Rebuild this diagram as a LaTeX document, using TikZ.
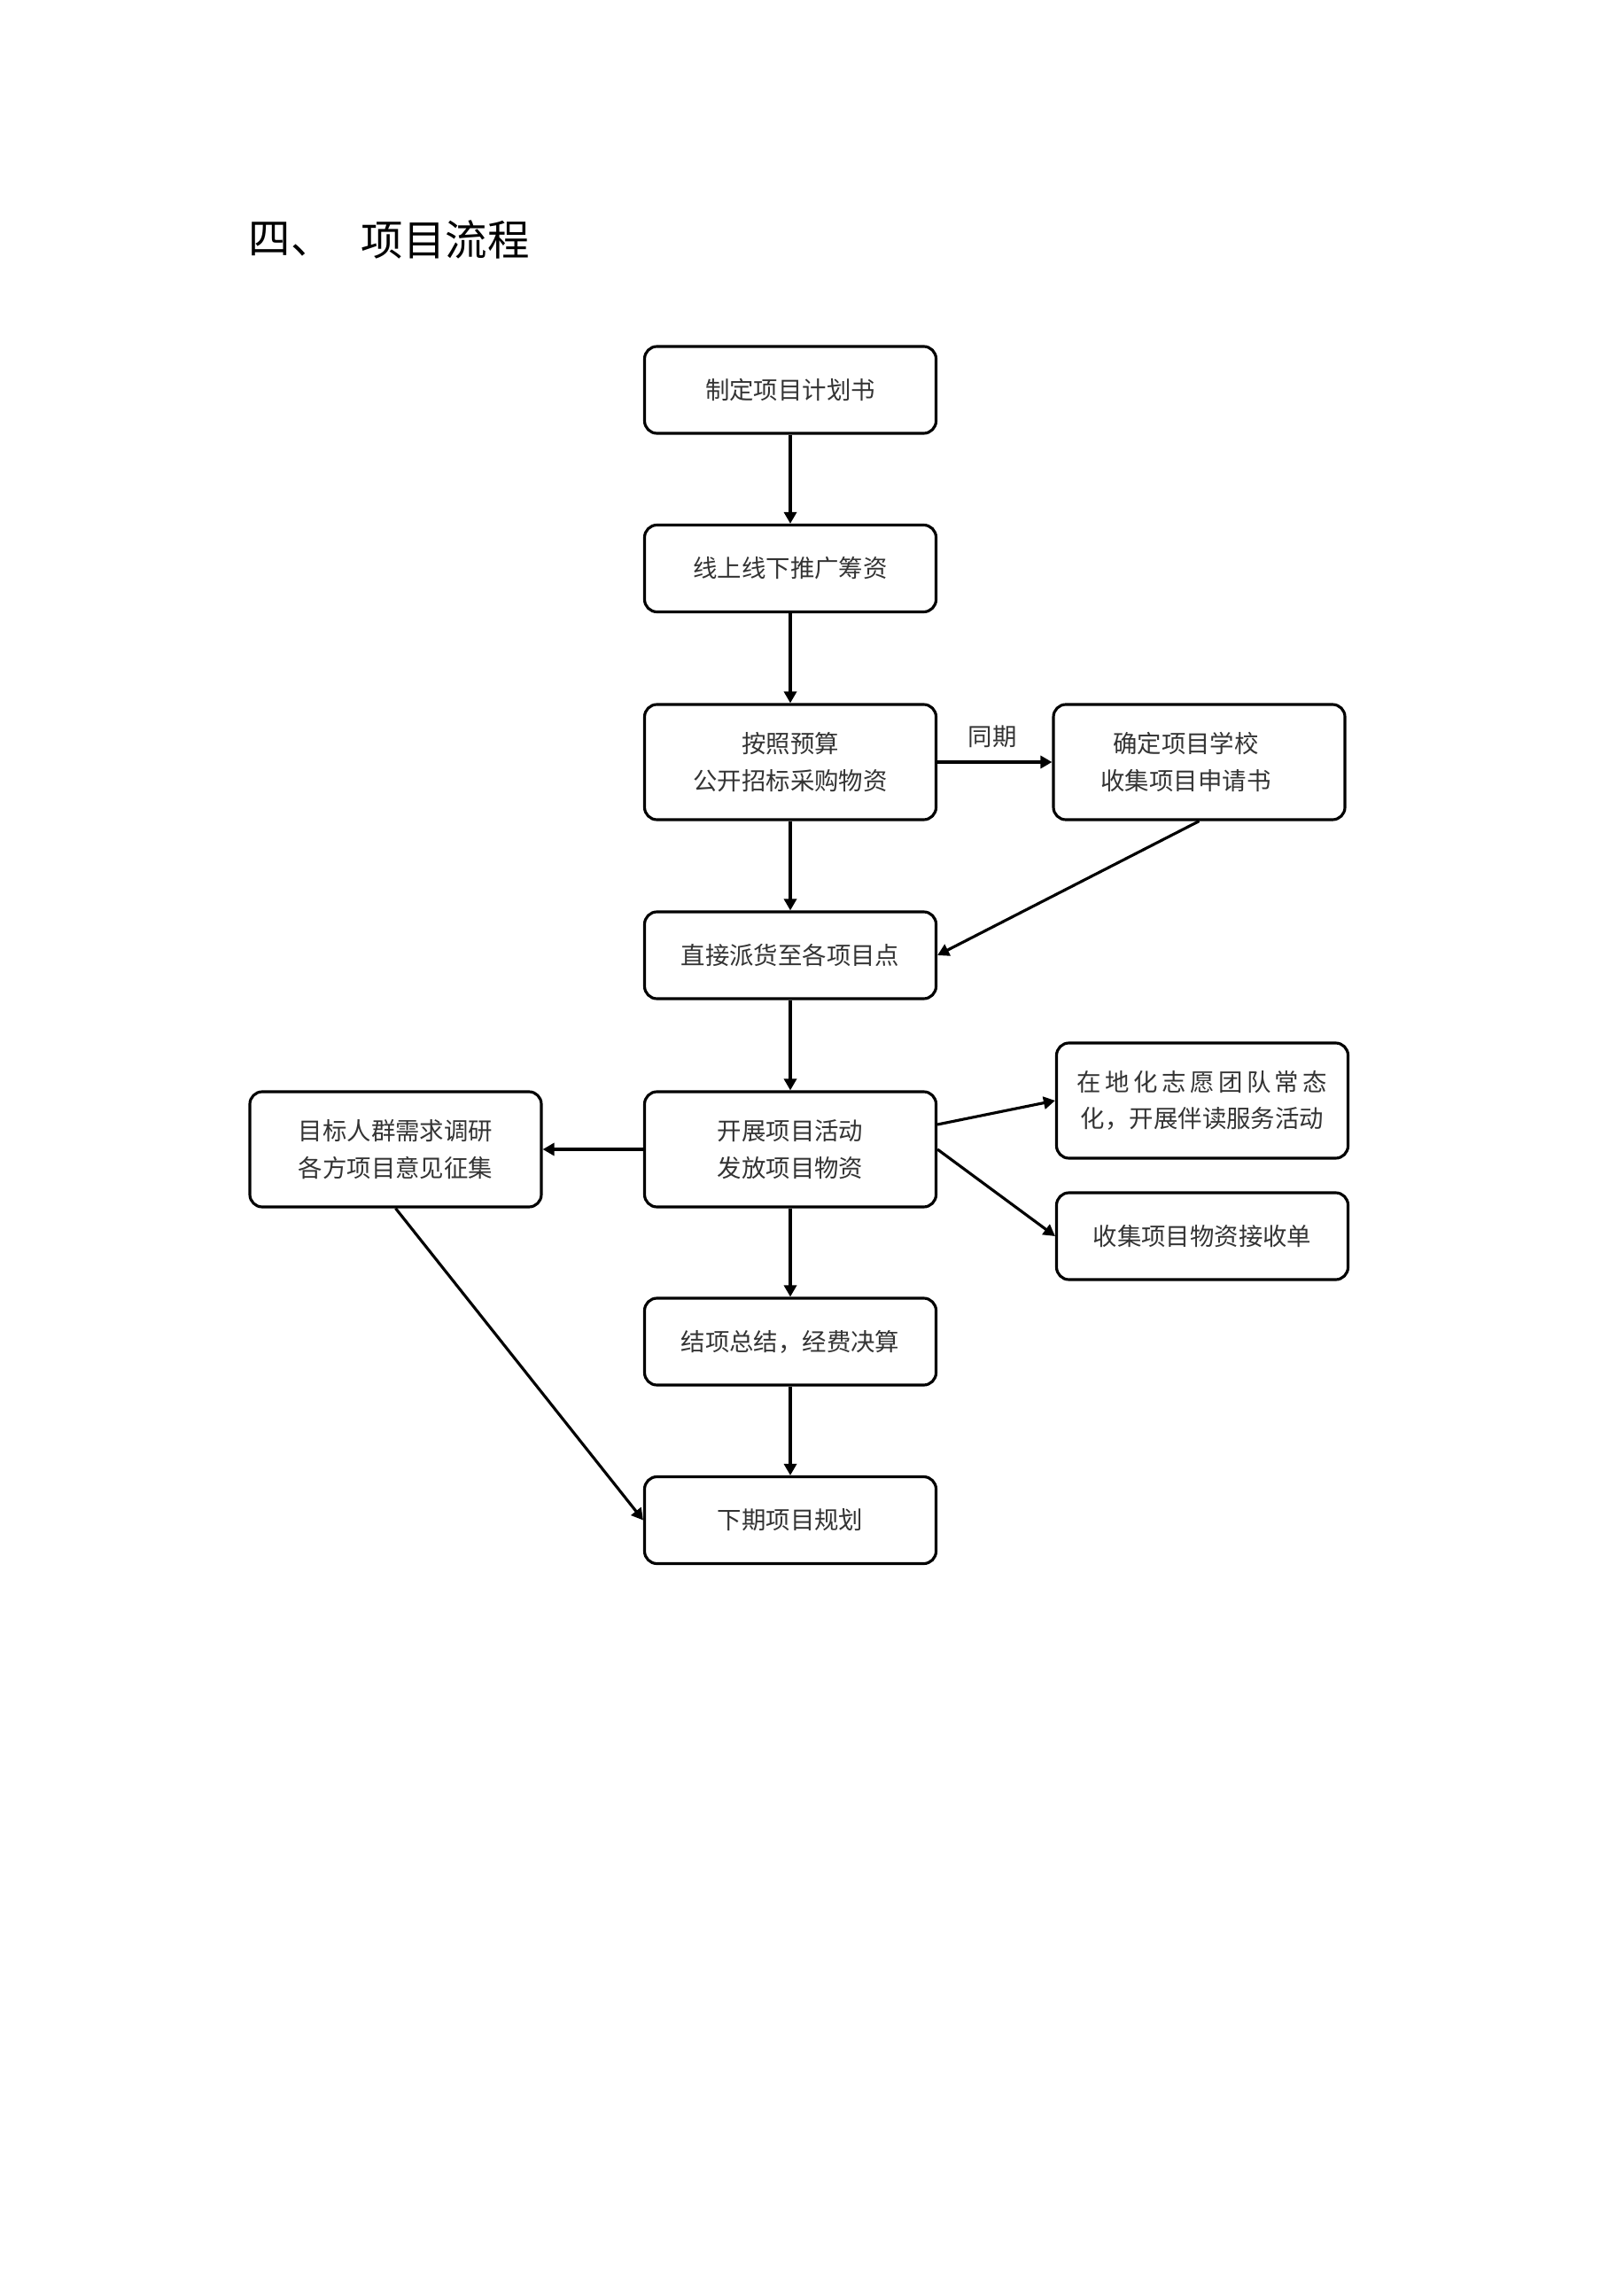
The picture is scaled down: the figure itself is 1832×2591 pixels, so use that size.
\documentclass[tikz,border=0pt]{standalone}
\usepackage{fontspec}
\newfontfamily\cjk{Noto Sans CJK SC}
\usetikzlibrary{arrows.meta}
\begin{document}
\begin{tikzpicture}[x=0.1mm,y=-0.1mm,
  box/.style={draw=black,line width=0.9pt,rounded corners=1.4mm,minimum width=32.9mm,
    align=center,inner sep=0pt,text=black!80,font=\cjk\fontsize{7.8}{11.8}\selectfont},
  one/.style={box,minimum height=9.8mm},
  two/.style={box,minimum height=13mm},
  arr/.style={-{Triangle[length=1.3mm,width=1.4mm]},line width=0.9pt,black},
  lbl/.style={text=black!80,font=\cjk\fontsize{7.8}{11.8}\selectfont,inner sep=0pt}]
\useasboundingbox (0,0) rectangle (1832,2591);
\node[anchor=west,inner sep=0pt,font=\cjk\fontsize{13.5}{16}\selectfont] (t1) at (280,270) {四、};
\node[anchor=west,inner sep=0pt,font=\cjk\fontsize{13.5}{16}\selectfont] (t2) at (407,270) {项目流程};

\node[one] (b1) at (892,440) {制定项目计划书};
\node[one] (b2) at (892,641.5) {线上线下推广筹资};
\node[two] (b3) at (892,860) {按照预算\\公开招标采购物资};
\node[two] (r1) at (1353.5,860) {确定项目学校\hspace*{3mm}\\收集项目申请书\hspace*{3mm}};
\node[one] (b5) at (892,1078) {直接派货至各项目点};
\node[two] (b6) at (892,1297) {开展项目活动\\发放项目物资};
\node[two] (L) at (446.5,1297) {目标人群需求调研\\各方项目意见征集};
\node[two] (rt) at (1357,1242) {\makebox[10.3em][s]{在\hfill 地\hfill 化\hfill 志\hfill 愿\hfill 团\hfill 队\hfill 常\hfill 态}\\化，开展伴读服务活动};
\node[one] (rb) at (1357,1395) {收集项目物资接收单};
\node[one] (b7) at (892,1514) {结项总结，经费决算};
\node[one] (b8) at (892,1715.5) {下期项目规划};

\draw[arr] (b1.south) -- (b2.north);
\draw[arr] (b2.south) -- (b3.north);
\draw[arr] (b3.east) -- (r1.west);
\node[lbl] (tq) at (1120,831) {同期};
\draw[arr] (r1.south) -- (b5.east);
\draw[arr] (b3.south) -- (b5.north);
\draw[arr] (b5.south) -- (b6.north);
\draw[arr] (b6.west) -- (L.east);
\coordinate (e1) at ([yshift=2.8mm]b6.east);
\draw[arr] (e1) -- (rt.west);
\draw[arr] (b6.east) -- (rb.west);
\draw[arr] (b6.south) -- (b7.north);
\draw[arr] (b7.south) -- (b8.north);
\draw[arr] (L.south) -- (b8.west);
\end{tikzpicture}
\end{document}
